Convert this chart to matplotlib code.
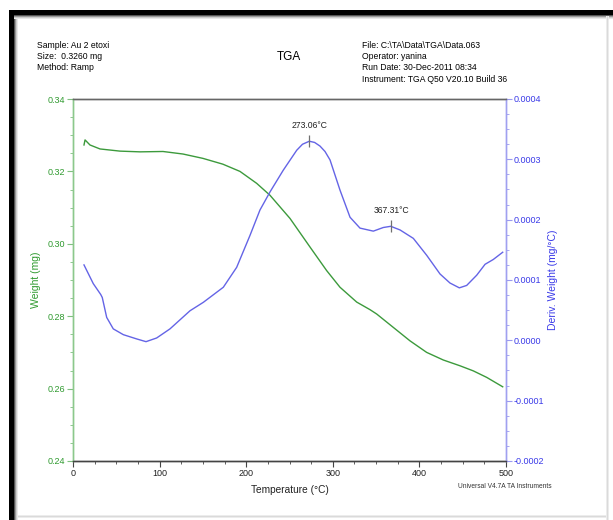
####################################################

# TGA curve: weight + derivative weight vs temperature

import numpy as np
import matplotlib
matplotlib.use("Agg")
from matplotlib import pyplot as plt
from matplotlib.patches import Rectangle
from matplotlib.ticker import MultipleLocator

####################################################

# Data

weight_temp = [12.7, 13.9, 19.6, 31.2, 54.3, 77.4, 103.9, 127.0, 150.0, 173.0,
               192.8, 212.1, 227.5, 250.6, 273.7, 292.9, 308.3, 327.6, 343.0,
               350.7, 369.9, 389.1, 408.4, 427.6, 446.9, 462.2, 477.7, 496.2]
weight_mg = [0.3273, 0.3287, 0.3273, 0.3262, 0.3256, 0.3254, 0.3255, 0.3248,
             0.3236, 0.3220, 0.3200, 0.3167, 0.3134, 0.3070, 0.2991, 0.2926,
             0.2880, 0.2839, 0.2818, 0.2806, 0.2769, 0.2732, 0.2700, 0.2679,
             0.2663, 0.2649, 0.2631, 0.2605]

deriv_temp = [12.7, 23.4, 32.0, 33.8, 38.9, 46.5, 58.1, 73.6, 84.3, 96.6,
              112.0, 135.1, 150.5, 173.6, 189.0, 204.4, 215.9, 227.5, 242.8,
              258.3, 265.0, 272.9, 279.0, 285.2, 291.0, 296.8, 308.3, 319.9,
              331.4, 346.8, 358.3, 366.9, 377.6, 393.0, 408.4, 423.8, 435.3,
              446.1, 454.6, 466.2, 475.8, 485.3, 496.2]
deriv_val = [0.000125, 0.000094, 0.000076, 0.000071, 0.000038, 0.000019,
             0.0000094, 0.0000023, -0.0000022, 0.0000039, 0.000019, 0.000049,
             0.000063, 0.000088, 0.000121, 0.000174, 0.000216, 0.000246,
             0.000282, 0.000315, 0.000325, 0.000330, 0.000328, 0.000322,
             0.000313, 0.000299, 0.000249, 0.000204, 0.000186, 0.000181,
             0.000187, 0.000189, 0.000183, 0.000169, 0.000141, 0.000110,
             0.000095, 0.000087, 0.000091, 0.000108, 0.000126, 0.000134,
             0.000146]

peak_temp = [273.06, 367.31]
peak_val = [0.000330, 0.000189]
peak_labels = ["273.06°C", "367.31°C"]

header_left = ["Sample: Au 2 etoxi", "Size:  0.3260 mg", "Method: Ramp"]
header_right = ["File: C:\\TA\\Data\\TGA\\Data.063", "Operator: yanina",
                "Run Date: 30-Dec-2011 08:34", "Instrument: TGA Q50 V20.10 Build 36"]

####################################################

plt.rcParams['font.family'] = ['Liberation Sans', 'DejaVu Sans']

W, H = 613, 520
green = "#3c9a3c"
green_txt = "#2f9a2f"
blue = "#6464e6"
blue_txt = "#3a3ae8"

fig = plt.figure(figsize=(W / 100, H / 100), dpi=100)
fig.patch.set_facecolor("white")

def fx(x):
    return x / W

def fy(y):
    return 1 - y / H

# frame around the picture (black top/left, grey shade right/bottom)
shade = ["#000000"] * 5 + ["#555555", "#999999", "#cccccc", "#e8e8e8"]
for i, c in reversed(list(enumerate(shade))):
    fig.add_artist(Rectangle((fx(9 + i), 0), 1 / W, fy(10 + min(i, 5)),
                             transform=fig.transFigure, color=c, lw=0))
for i, c in reversed(list(enumerate(shade))):
    fig.add_artist(Rectangle((fx(9 + min(i, 5)), fy(11 + i)), fx(W) - fx(9), 1 / H,
                             transform=fig.transFigure, color=c, lw=0))
for i, c in enumerate(["#ececec", "#dadada", "#ececec"]):
    fig.add_artist(Rectangle((fx(606 + i), 0), 1 / W, fy(16),
                             transform=fig.transFigure, color=c, lw=0))
    fig.add_artist(Rectangle((fx(18), fy(516 + i)), fx(606) - fx(18), 1 / H,
                             transform=fig.transFigure, color=c, lw=0))

ax = fig.add_axes([fx(73), fy(461), fx(506) - fx(73), fy(99) - fy(461)])
ax2 = ax.twinx()

ax.plot(weight_temp, weight_mg, color=green, lw=1.0)
ax2.plot(deriv_temp, deriv_val, color=blue, lw=1.0)

# peak markers
ax2.plot(peak_temp, peak_val, ls="none", marker="|", markersize=9,
         color="#707070", mew=0.9)
for t, v, s in zip(peak_temp, peak_val, peak_labels):
    ax2.annotate(s, (t, v), xytext=(0, 8), textcoords="offset points",
                 ha="center", va="bottom", fontsize=6.2, color="#222222")

ax.set_xlim(0, 500)
ax.set_ylim(0.24, 0.34)
ax2.set_ylim(-0.0002, 0.0004)

ax.xaxis.set_major_locator(MultipleLocator(100))
ax.xaxis.set_minor_locator(MultipleLocator(25))
ax.yaxis.set_major_locator(MultipleLocator(0.02))
ax.yaxis.set_minor_locator(MultipleLocator(0.005))
ax2.yaxis.set_major_locator(MultipleLocator(0.0001))
ax2.yaxis.set_minor_locator(MultipleLocator(0.000025))

ax.yaxis.set_major_formatter(plt.FuncFormatter(lambda v, p: f"{v:.2f}"))
ax2.yaxis.set_major_formatter(plt.FuncFormatter(
    lambda v, p: f"{abs(v):.4f}" if abs(v) < 1e-9 else f"{v:.4f}"))

ax.tick_params(axis="x", which="major", length=4, width=0.8, colors="#444444",
               labelcolor="#222222", labelsize=6.5, pad=1.5)
ax.tick_params(axis="x", which="minor", length=2.5, width=0.6, colors="#444444")
ax.tick_params(axis="y", which="major", length=4, width=0.8, colors="#7fc07f",
               labelcolor=green_txt, labelsize=6.5, pad=1.5)
ax.tick_params(axis="y", which="minor", length=2.5, width=0.6, colors="#7fc07f")
ax2.tick_params(axis="y", which="major", length=4, width=0.8, colors="#9a9af0",
                labelcolor=blue_txt, labelsize=6.5, pad=1.5)
ax2.tick_params(axis="y", which="minor", length=2.5, width=0.6, colors="#9a9af0")

for a in (ax, ax2):
    a.spines["top"].set_color("#666666")
    a.spines["bottom"].set_color("#444444")
    a.spines["left"].set_color("#8cc88c")
    a.spines["right"].set_color("#a0a0f0")
    for s in a.spines.values():
        s.set_linewidth(1.0)

ax.set_xlabel("Temperature (°C)", fontsize=7.3, color="#222222", labelpad=5)
ax.set_ylabel("Weight (mg)", fontsize=7.5, color=green_txt, labelpad=5)
ax2.set_ylabel("Deriv. Weight (mg/°C)", fontsize=7.5, color=blue_txt, labelpad=3)

# header texts
for i, s in enumerate(header_left):
    fig.text(fx(37), fy(45 + i * 11.5), s, fontsize=6.2, va="center", ha="left")
for i, s in enumerate(header_right):
    fig.text(fx(362), fy(45 + i * 11.5), s, fontsize=6.2, va="center", ha="left")
fig.text(fx(289), fy(57), "TGA", fontsize=8.5, va="center", ha="center")
fig.text(fx(505), fy(487), "Universal V4.7A TA Instruments", fontsize=4.8,
         va="center", ha="center", color="#333333")

fig.savefig("out.png", dpi=100)
